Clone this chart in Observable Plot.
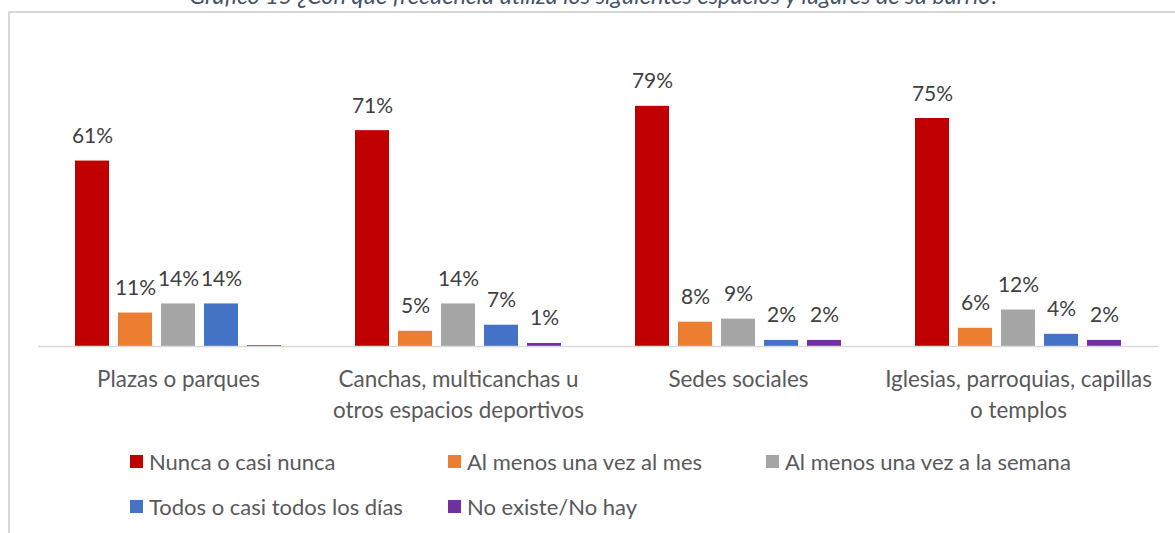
<!DOCTYPE html>
<html>
<head>
<meta charset="utf-8">
<script src="https://cdn.jsdelivr.net/npm/d3@7"></script>
<script src="https://cdn.jsdelivr.net/npm/@observablehq/plot@0.6"></script>
<style>
  html, body { margin: 0; padding: 0; background: #fff; }
  #wrap { position: relative; width: 1175px; height: 533px; overflow: hidden; font-family: Lato, "Open Sans", sans-serif; }
  #frame { position: absolute; left: 8px; top: 11px; width: 1300px; height: 700px; border: 2px solid #d9d9d9; box-sizing: border-box; }
  #title { position: absolute; left: 7px; width: 1175px; top: -16px; text-align: center; font-style: italic; font-size: 23.5px; line-height: 23.5px; color: #44546a; white-space: nowrap; }
  #chart { position: absolute; left: 0; top: 0; }
  .item { position: absolute; display: flex; align-items: center; font-size: 22px; color: #595959; white-space: nowrap; height: 28px; }
  .sw { width: 13px; height: 13px; margin-right: 6px; flex: none; }
</style>
</head>
<body>
<div id="wrap">
  <div id="frame"></div>
  <div id="title">Gráfico 15 ¿Con qué frecuencia utiliza los siguientes espacios y lugares de su barrio?</div>
  <div id="chart"></div>
  <div id="legend"></div>
</div>
<script>
const categories = [
  "Plazas o parques",
  "Canchas, multicanchas u otros espacios deportivos",
  "Sedes sociales",
  "Iglesias, parroquias, capillas o templos"
];
const categoryLabels = [
  "Plazas o parques",
  "Canchas, multicanchas u\notros espacios deportivos",
  "Sedes sociales",
  "Iglesias, parroquias, capillas\no templos"
];
const series = [
  "Nunca o casi nunca",
  "Al menos una vez al mes",
  "Al menos una vez a la semana",
  "Todos o casi todos los días",
  "No existe/No hay"
];
const colors = ["#c00000", "#ed7d31", "#a5a5a5", "#4472c4", "#7030a0"];
// values in %, one array per series, in category order
const nunca    = [61, 71, 79, 75];
const alMes    = [11, 5, 8, 6];
const semana   = [14, 14, 9, 12];
const todos    = [14, 7, 2, 4];
const noExiste = [0.3, 1, 2, 2];
// the reference shows no data label on the "No existe/No hay" bar of "Plazas o parques"
const showLabel = [[true,true,true,true],[true,true,true,true],[true,true,true,true],[true,true,true,true],[false,true,true,true]];

const seriesValues = [nunca, alMes, semana, todos, noExiste];
const data = [];
categories.forEach((c, ci) => {
  series.forEach((s, si) => {
    data.push({category: c, series: s, value: seriesValues[si][ci], label: showLabel[si][ci]});
  });
});

const chart = Plot.plot({
  width: 1175,
  height: 430,
  marginLeft: 38,
  marginRight: 17,
  marginTop: 42,
  marginBottom: 84,
  style: {fontFamily: "Lato, 'Open Sans', sans-serif", background: "transparent"},
  fx: {domain: categories, paddingInner: 0, paddingOuter: 0, axis: null},
  x: {domain: series, paddingInner: 0.209, paddingOuter: 0.86, axis: null},
  y: {domain: [0, 100], axis: null},
  color: {domain: series, range: colors},
  marks: [
    Plot.barY(data, {fx: "category", x: "series", y: "value", fill: "series"}),
    Plot.ruleY([0], {stroke: "#d9d9d9", strokeWidth: 1.5}),
    Plot.text(data.filter(d => d.label), {
      fx: "category", x: "series", y: "value",
      text: d => `${Math.round(d.value)}%`,
      dy: -18, lineAnchor: "bottom", fontSize: 21, fill: "#404040"
    }),
    Plot.text(categories, {
      fx: d => d,
      text: (d, i) => categoryLabels[i],
      frameAnchor: "bottom", lineAnchor: "top", dy: 19,
      lineHeight: 1.36, fontSize: 22.4, fill: "#595959"
    })
  ]
});
document.getElementById("chart").appendChild(chart);

// legend
const legendLayout = [
  {left: 130, top: 447}, {left: 448, top: 447}, {left: 766, top: 447},
  {left: 130, top: 492}, {left: 448, top: 492}
];
const legend = document.getElementById("legend");
series.forEach((s, i) => {
  const it = document.createElement("div");
  it.className = "item";
  it.style.left = legendLayout[i].left + "px";
  it.style.top = legendLayout[i].top + "px";
  const sw = document.createElement("span");
  sw.className = "sw";
  sw.style.background = colors[i];
  const tx = document.createElement("span");
  tx.textContent = s;
  it.appendChild(sw);
  it.appendChild(tx);
  legend.appendChild(it);
});
</script>
</body>
</html>
